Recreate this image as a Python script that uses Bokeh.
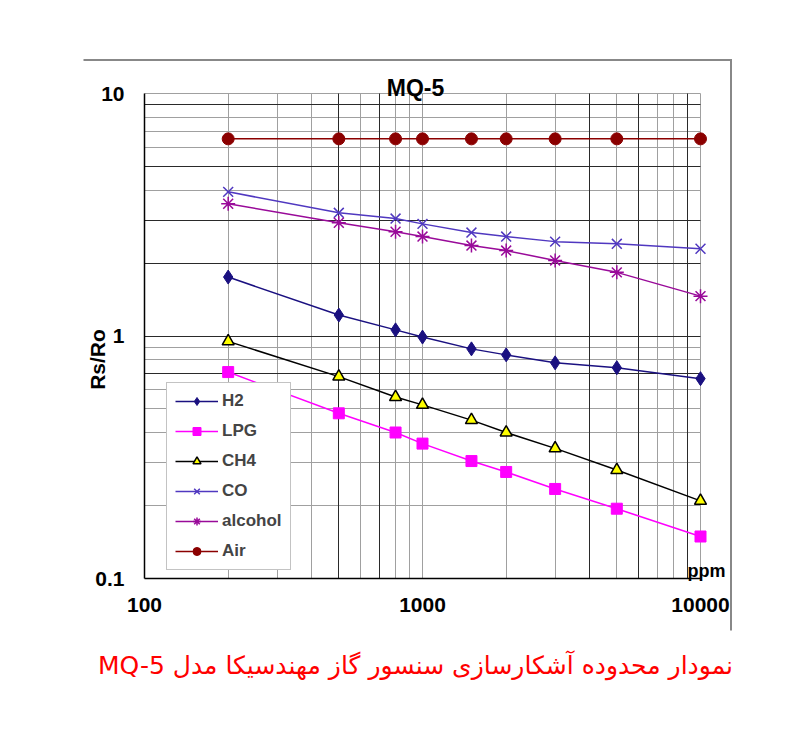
from bokeh.plotting import figure
from bokeh.models import (Range1d, FixedTicker, Grid, Label, Legend, LegendItem,
                          BoxAnnotation)
from bokeh.embed import file_html
from bokeh.resources import INLINE

FONT = 'Liberation Sans'

# DATA
ppm = [200, 500, 800, 1000, 1500, 2000, 3000, 5000, 10000]
h2 = [1.75, 1.22, 1.06, 0.99, 0.885, 0.836, 0.775, 0.74, 0.667]
lpg = [0.71, 0.48, 0.40, 0.36, 0.305, 0.275, 0.234, 0.194, 0.149]
ch4 = [0.95, 0.68, 0.56, 0.52, 0.45, 0.40, 0.344, 0.28, 0.209]
co = [3.93, 3.22, 3.05, 2.90, 2.67, 2.57, 2.45, 2.40, 2.29]
alcohol = [3.51, 2.93, 2.69, 2.57, 2.36, 2.25, 2.05, 1.83, 1.46]
air = [6.5, 6.5, 6.5, 6.5, 6.5, 6.5, 6.5, 6.5, 6.5]

x_ticks = [100, 1000, 10000]
x_tick_labels = ['100', '1000', '10000']
y_ticks = [0.1, 1, 10]
y_tick_labels = ['0.1', '1', '10']

# grid lines, the scan has some darker than others
x_grid_light = [200, 300, 400, 600, 800, 900, 1000, 2000, 3000, 5000, 7000, 8000, 10000]
x_grid_dark = [500, 700, 4000, 6000, 9000]
y_grid_light = [0.2, 0.3, 0.4, 0.5, 0.6, 0.8, 0.9, 4, 6, 7, 8, 10]
y_grid_dark = [0.7, 1, 2, 3, 5, 9]

title_text = 'MQ-5'
y_label_text = 'Rs/Ro'
unit_text = 'ppm'
caption_text = 'نمودار محدوده آشکارسازی سنسور گاز مهندسیکا مدل MQ-5'

# pixels of the log-log box on the page; the bokeh frame covers the whole
# canvas so texts outside the box are not clipped
BOX_L, BOX_R, BOX_T, BOX_B = 144, 700, 93, 578
W, H = 784, 715


def dx(px):
    return 10 ** (2 + 2 * (px - BOX_L) / (BOX_R - BOX_L))


def dy(py):
    return 10 ** (-1 + 2 * (BOX_B - py) / (BOX_B - BOX_T))


p = figure(
    width=W,
    height=H,
    x_axis_type='log',
    y_axis_type='log',
    x_range=Range1d(dx(0), dx(W)),
    y_range=Range1d(dy(H), dy(0)),
    toolbar_location=None,
    output_backend='svg',
    min_border=0,
)
p.background_fill_color = 'white'
p.border_fill_color = 'white'
p.outline_line_color = None

# axes sit on the box edges
p.xaxis.fixed_location = y_ticks[0]
p.yaxis.fixed_location = x_ticks[0]
p.xaxis.ticker = FixedTicker(ticks=x_ticks)
p.yaxis.ticker = FixedTicker(ticks=y_ticks)
p.xaxis.major_label_overrides = dict(zip(x_ticks, x_tick_labels))
p.yaxis.major_label_overrides = dict(zip(y_ticks, y_tick_labels))
p.xaxis.bounds = (x_ticks[0], x_ticks[-1])
p.yaxis.bounds = (y_ticks[0], y_ticks[-1])
for ax in (p.xaxis[0], p.yaxis[0]):
    ax.axis_line_color = 'black'
    ax.axis_line_width = 1.5
    ax.major_tick_line_color = None
    ax.minor_tick_line_color = None
    ax.major_tick_out = 0
    ax.major_tick_in = 0
    ax.major_label_text_font = FONT
    ax.major_label_text_font_style = 'bold'
    ax.major_label_text_font_size = '21px'
    ax.major_label_text_color = 'black'
p.xaxis.major_label_standoff = 19
p.yaxis.major_label_standoff = 20

# grids, kept inside the box
p.xgrid.ticker = FixedTicker(ticks=x_grid_light)
p.ygrid.ticker = FixedTicker(ticks=y_grid_light)
p.xgrid.grid_line_color = '#a0a0a0'
p.ygrid.grid_line_color = '#a0a0a0'
p.xgrid.cross_bounds = (y_ticks[0], y_ticks[-1])
p.ygrid.cross_bounds = (x_ticks[0], x_ticks[-1])
p.add_layout(Grid(dimension=0, ticker=FixedTicker(ticks=x_grid_dark),
                  grid_line_color='#2a2a2a', cross_bounds=(y_ticks[0], y_ticks[-1])))
p.add_layout(Grid(dimension=1, ticker=FixedTicker(ticks=y_grid_dark),
                  grid_line_color='#2a2a2a', cross_bounds=(x_ticks[0], x_ticks[-1])))

# series
series = [
    ('H2', h2, '#1a1080', dict(marker='diamond', size=14, fill_color='#1a1080', line_color='#1a1080')),
    ('LPG', lpg, '#ff00ff', dict(marker='square', size=11, fill_color='#ff00ff', line_color='#ff00ff')),
    ('CH4', ch4, 'black', dict(marker='triangle', size=12, fill_color='#ffff00', line_color='black', line_width=1.5)),
    ('CO', co, '#5038c0', dict(marker='x', size=14, line_color='#5038c0', line_width=1.5)),
    ('alcohol', alcohol, '#990a99', dict(marker='asterisk', size=14, line_color='#990a99', line_width=1.5)),
    ('Air', air, '#8b0000', dict(marker='circle', size=12, fill_color='#8b0000', line_color='#8b0000')),
]

items = []
for name, ys, color, mk in series:
    data = {'ppm': ppm, 'val': ys}
    ln = p.line(source=data, x='ppm', y='val', line_color=color, line_width=1.5)
    sc = p.scatter(source=data, x='ppm', y='val', **mk)
    items.append(LegendItem(label=name, renderers=[ln, sc]))

legend = Legend(
    items=items,
    location=(166, H - 570),
    border_line_color='#888888',
    border_line_width=1.5,
    background_fill_color='white',
    background_fill_alpha=1,
    padding=8,
    spacing=10,
    margin=0,
    glyph_width=43,
    glyph_height=20,
    label_height=20,
    label_standoff=4,
    label_text_font=FONT,
    label_text_font_style='bold',
    label_text_font_size='17px',
)
p.add_layout(legend, 'center')

# texts
p.add_layout(Label(x=dx(415), y=dy(87), text=title_text, text_align='center',
                   text_baseline='alphabetic', text_font=FONT, text_font_style='bold',
                   text_font_size='23px', text_color='black'))
p.add_layout(Label(x=dx(97), y=dy(359), text=y_label_text, angle=90, angle_units='deg',
                   text_align='center', text_baseline='middle', text_font=FONT,
                   text_font_style='bold', text_font_size='21px', text_color='black'))
p.add_layout(Label(x=dx(687), y=dy(570), text=unit_text, text_align='left',
                   text_baseline='alphabetic', text_font=FONT, text_font_style='bold',
                   text_font_size='18px', text_color='black'))
# right-to-left embedding so that "MQ-5" ends up on the left as in the original
p.add_layout(Label(x=dx(415), y=dy(665), text='\u202b' + caption_text + '\u202c',
                   text_align='center', text_baseline='middle', text_font='DejaVu Sans',
                   text_font_size='25px', text_color='#ff0000'))

# outer frame of the picture (top and right edges only)
p.add_layout(BoxAnnotation(left=dx(83), right=dx(731.5), top=dy(58.5), bottom=dy(60.5),
                           fill_color='#888888', fill_alpha=1, line_color=None))
p.add_layout(BoxAnnotation(left=dx(729.5), right=dx(731.5), top=dy(58.5), bottom=dy(630),
                           fill_color='#888888', fill_alpha=1, line_color=None))

open('out.html', 'w').write(file_html(p, INLINE))
